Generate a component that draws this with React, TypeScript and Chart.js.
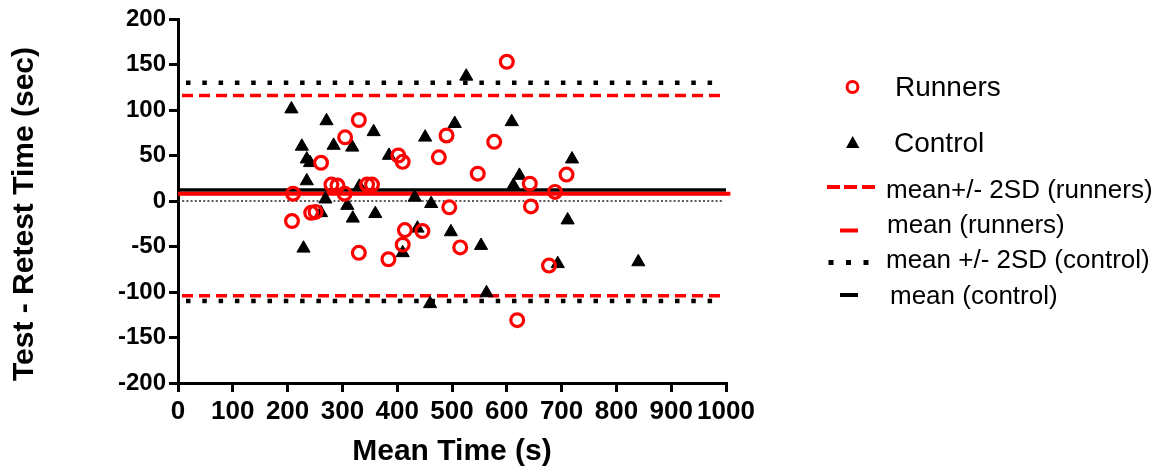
import React, { useEffect, useRef } from 'react';
import { Chart, registerables } from 'chart.js';

Chart.register(...registerables);

// ---- data ----
const runnersX = [600, 330, 305, 490, 577, 261, 402, 410, 476, 547, 709, 280, 291, 345, 354, 642, 688, 210, 304, 495, 644, 243, 251, 208, 414, 446, 410, 515, 330, 384, 677, 619];
const runnersY = [153, 89, 70, 72, 65, 42, 50, 43, 48, 30, 29, 18, 17, 18, 18, 19, 10, 8, 8, -7, -6, -13, -12, -22, -32, -33, -48, -51, -57, -64, -71, -131];

const controlX = [207, 271, 526, 226, 284, 318, 357, 505, 609, 451, 235, 241, 385, 719, 235, 331, 623, 612, 269, 432, 309, 462, 319, 261, 360, 437, 498, 229, 410, 553, 711, 693, 840, 563, 460];
const controlY = [101, 88, 137, 60, 61, 59, 76, 85, 87, 70, 46, 42, 50, 46, 22, 16, 28, 17, 2, 4, -5, -3, -19, -13, -14, -30, -34, -52, -57, -49, -21, -69, -67, -101, -113];

const runnersMean = 8;
const runnersUpper = 116;
const runnersLower = -104;
const controlMean = 12;
const controlUpper = 130;
const controlLower = -110;

const xMin = 0;
const xMax = 1000;
const xStep = 100;
const yMin = -200;
const yMax = 200;
const yStep = 50;

const xTitle = 'Mean Time (s)';
const yTitle = 'Test - Retest Time (sec)';

const legendLabels = [
  'Runners',
  'Control',
  'mean+/- 2SD (runners)',
  'mean (runners)',
  'mean +/- 2SD (control)',
  'mean (control)',
];

const RED = '#ff0000';
const FONT = "'Liberation Sans', Arial, sans-serif";
const NARROW = "'Liberation Sans Narrow', 'Arial Narrow', 'Liberation Sans', sans-serif";

const hLine = (y: number, x0: number, x1: number) => [
  { x: x0, y },
  { x: x1, y },
];

const yTitlePlugin = {
  id: 'yTitlePlugin',
  afterDraw(chart: any) {
    const ctx = chart.ctx;
    ctx.save();
    ctx.translate(25, 214);
    ctx.rotate(-Math.PI / 2);
    ctx.font = `bold 30px ${FONT}`;
    ctx.fillStyle = '#000';
    ctx.textAlign = 'center';
    ctx.textBaseline = 'middle';
    ctx.fillText(yTitle, 0, 0);
    ctx.restore();
  },
};

export default function App() {
  const ref = useRef<HTMLCanvasElement | null>(null);

  useEffect(() => {
    document.body.style.margin = '0';
    if (!ref.current) return;
    const lineBase = { showLine: true, pointRadius: 0, pointHoverRadius: 0, fill: false };
    const chart = new Chart(ref.current, {
      type: 'scatter',
      data: {
        datasets: [
          {
            label: 'Runners',
            data: runnersX.map((x, i) => ({ x, y: runnersY[i] })),
            pointStyle: 'circle',
            pointRadius: 6.4,
            pointBorderWidth: 3.2,
            borderColor: RED,
            backgroundColor: 'rgba(0,0,0,0)',
          },
          {
            label: 'Control',
            data: controlX.map((x, i) => ({ x, y: controlY[i] })),
            pointStyle: 'triangle',
            pointRadius: 7.6,
            pointBorderWidth: 1,
            borderColor: '#000',
            backgroundColor: '#000',
          },
          {
            ...lineBase,
            label: 'mean (runners)',
            data: hLine(runnersMean, xMin, 1008),
            borderColor: RED,
            borderWidth: 4,
            clip: false,
          },
          {
            ...lineBase,
            label: 'mean (control)',
            data: hLine(controlMean, xMin, xMax),
            borderColor: '#000',
            borderWidth: 3.5,
          },
          {
            ...lineBase,
            label: 'upper runners',
            data: hLine(runnersUpper, xMin, 996),
            borderColor: RED,
            borderWidth: 3.5,
            borderDash: [11, 6],
            borderDashOffset: -4,
          },
          {
            ...lineBase,
            label: 'lower runners',
            data: hLine(runnersLower, xMin, 996),
            borderColor: RED,
            borderWidth: 3.5,
            borderDash: [11, 6],
            borderDashOffset: -4,
          },
          {
            ...lineBase,
            label: 'upper control',
            data: hLine(controlUpper, xMin, 996),
            borderColor: '#000',
            borderWidth: 4.5,
            borderDash: [4.5, 11.8],
            borderDashOffset: -8,
          },
          {
            ...lineBase,
            label: 'lower control',
            data: hLine(controlLower, xMin, 996),
            borderColor: '#000',
            borderWidth: 4.5,
            borderDash: [4.5, 11.8],
            borderDashOffset: -8,
          },
          {
            ...lineBase,
            label: 'zero',
            data: hLine(0, xMin, 996),
            borderColor: '#222',
            borderWidth: 1.5,
            borderDash: [2, 2.2],
          },
        ],
      },
      options: {
        responsive: false,
        animation: false,
        events: [],
        layout: { padding: { top: 19, right: 442, left: 0, bottom: 0 } },
        plugins: {
          legend: { display: false },
          tooltip: { enabled: false },
          title: { display: false },
        },
        scales: {
          x: {
            type: 'linear',
            min: xMin,
            max: xMax,
            afterFit: (s: any) => {
              s.height = 87;
            },
            ticks: {
              stepSize: xStep,
              color: '#000',
              padding: 4,
              maxRotation: 0,
              autoSkip: false,
              callback: (v: any) => String(v),
              font: { family: NARROW, size: 26, weight: 'bold' },
            },
            grid: {
              drawOnChartArea: false,
              drawTicks: true,
              tickLength: 9,
              lineWidth: 3,
              color: '#000',
            },
            border: { display: true, width: 3, color: '#000' },
            title: {
              display: true,
              text: xTitle,
              color: '#000',
              padding: { top: 0, bottom: 0 },
              font: { family: FONT, size: 30, weight: 'bold' },
            },
          },
          y: {
            type: 'linear',
            min: yMin,
            max: yMax,
            afterFit: (s: any) => {
              s.width = 178;
            },
            ticks: {
              stepSize: yStep,
              color: '#000',
              padding: 3,
              autoSkip: false,
              callback: (v: any) => String(v),
              font: { family: FONT, size: 24, weight: 'bold' },
            },
            grid: {
              drawOnChartArea: false,
              drawTicks: true,
              tickLength: 9,
              lineWidth: 3,
              color: '#000',
            },
            border: { display: true, width: 3, color: '#000' },
          },
        },
      } as any,
      plugins: [yTitlePlugin],
    });
    return () => chart.destroy();
  }, []);

  const textStyle = (left: number, baseline: number, size: number): React.CSSProperties => ({
    position: 'absolute',
    left,
    top: baseline - 0.8465 * size,
    fontFamily: FONT,
    fontSize: size,
    lineHeight: `${size}px`,
    whiteSpace: 'nowrap',
    color: '#000',
  });

  return (
    <div style={{ position: 'relative', width: 1168, height: 470, background: '#fff', overflow: 'hidden' }}>
      <canvas ref={ref} width={1168} height={470} style={{ position: 'absolute', left: 0, top: 0, display: 'block' }} />
      <svg width={1168} height={470} style={{ position: 'absolute', left: 0, top: 0, pointerEvents: 'none' }}>
        <circle cx={852.5} cy={87} r={5.4} stroke={RED} strokeWidth={3} fill="none" />
        <polygon points="846,148 859.4,148 852.7,136" fill="#000" />
        <line x1={827} x2={840} y1={187} y2={187} stroke={RED} strokeWidth={4} />
        <line x1={844} x2={857} y1={187} y2={187} stroke={RED} strokeWidth={4} />
        <line x1={862} x2={875} y1={187} y2={187} stroke={RED} strokeWidth={4} />
        <line x1={840} x2={858} y1={230.5} y2={230.5} stroke={RED} strokeWidth={4} />
        <rect x={828.5} y={260} width={5} height={5} fill="#000" />
        <rect x={846} y={260} width={5} height={5} fill="#000" />
        <rect x={863.5} y={260} width={5} height={5} fill="#000" />
        <line x1={840} x2={858} y1={295} y2={295} stroke="#000" strokeWidth={4} />
      </svg>
      <div style={textStyle(895, 96.7, 28)}>{legendLabels[0]}</div>
      <div style={textStyle(894, 152.7, 28)}>{legendLabels[1]}</div>
      <div style={textStyle(886, 198, 26)}>{legendLabels[2]}</div>
      <div style={textStyle(887, 232.7, 26)}>{legendLabels[3]}</div>
      <div style={textStyle(886, 268.3, 26)}>{legendLabels[4]}</div>
      <div style={textStyle(890, 304.5, 26)}>{legendLabels[5]}</div>
    </div>
  );
}
